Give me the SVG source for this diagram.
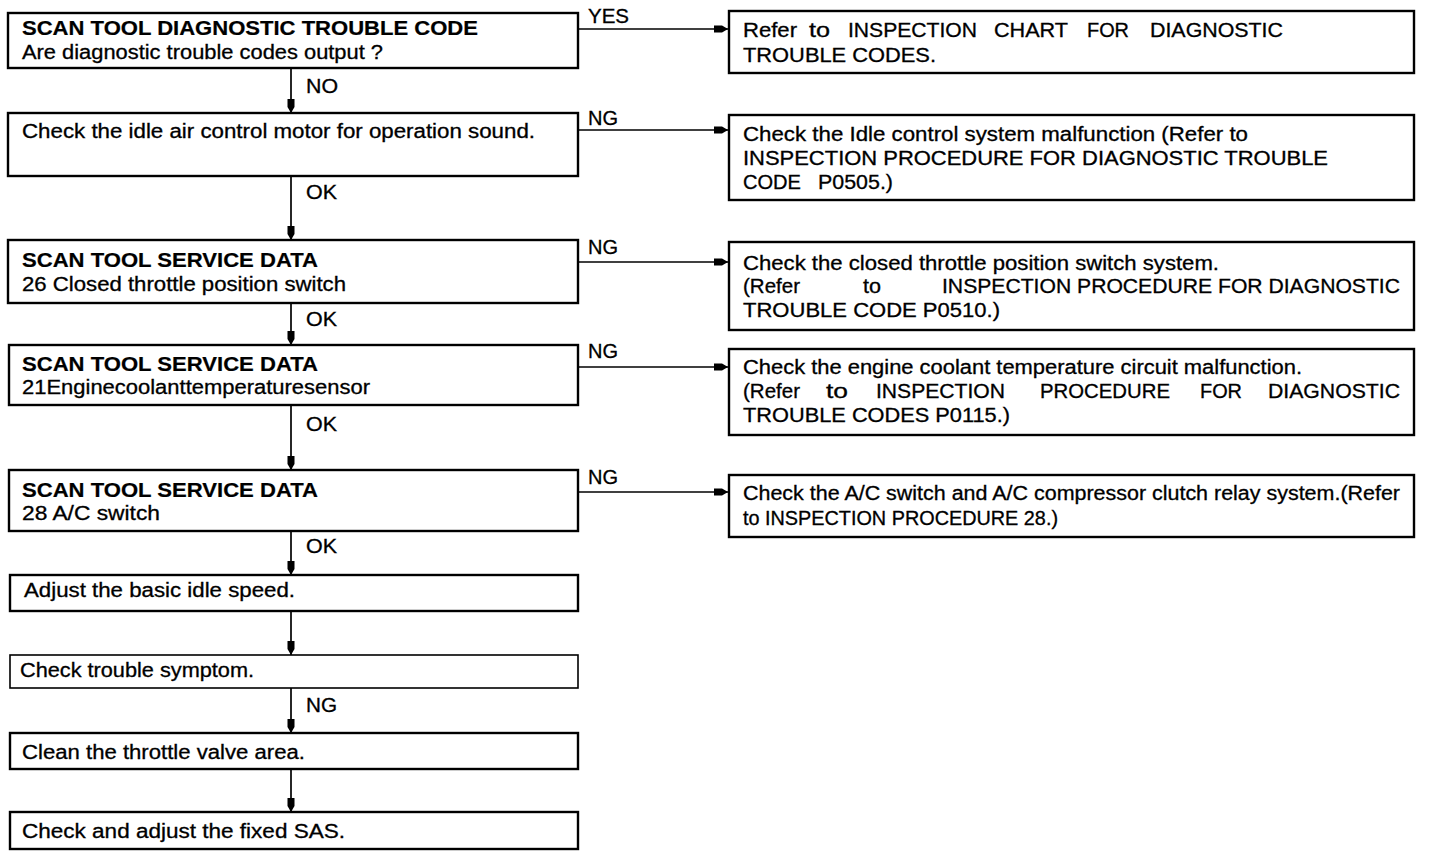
<svg xmlns="http://www.w3.org/2000/svg" width="1440" height="858" viewBox="0 0 1440 858">
<style>
.bg{fill:#ffffff}
.box{fill:#ffffff;stroke:#000000;stroke-width:2.4}
.thin{stroke-width:1.6}
.t{font-family:"Liberation Sans",Arial,sans-serif;font-size:19.5px;fill:#000000;stroke:#000000;stroke-width:0.3}
.b{font-weight:bold;stroke-width:0.2}
.lbl{font-family:"Liberation Sans",Arial,sans-serif;font-size:19.5px;fill:#000000;stroke:#000000;stroke-width:0.3}
.c{stroke:#000000;stroke-width:1.7;fill:none}
</style>
<defs>
<marker id="ah" viewBox="0 0 14 9" refX="14" refY="4.5" markerWidth="14" markerHeight="9" markerUnits="userSpaceOnUse" orient="auto">
<path d="M0,1 L8,1 L14,4.5 L8,8 L0,8 Z" fill="#000000"/>
</marker>
</defs>
<rect class="bg" x="0" y="0" width="1440" height="858"/>

<g id="connectors">
<line class="c" x1="578" y1="29" x2="728" y2="29" marker-end="url(#ah)"/>
<line class="c" x1="578" y1="130" x2="728" y2="130" marker-end="url(#ah)"/>
<line class="c" x1="578" y1="262" x2="728" y2="262" marker-end="url(#ah)"/>
<line class="c" x1="578" y1="367" x2="728" y2="367" marker-end="url(#ah)"/>
<line class="c" x1="578" y1="492" x2="728" y2="492" marker-end="url(#ah)"/>
<line class="c" x1="291" y1="68" x2="291" y2="113" marker-end="url(#ah)"/>
<line class="c" x1="291" y1="176" x2="291" y2="240" marker-end="url(#ah)"/>
<line class="c" x1="291" y1="303" x2="291" y2="345" marker-end="url(#ah)"/>
<line class="c" x1="291" y1="405" x2="291" y2="470" marker-end="url(#ah)"/>
<line class="c" x1="291" y1="531" x2="291" y2="575" marker-end="url(#ah)"/>
<line class="c" x1="291" y1="611" x2="291" y2="655" marker-end="url(#ah)"/>
<line class="c" x1="291" y1="688" x2="291" y2="733" marker-end="url(#ah)"/>
<line class="c" x1="291" y1="769" x2="291" y2="812" marker-end="url(#ah)"/>
<text class="lbl" x="588" y="23" textLength="41" lengthAdjust="spacingAndGlyphs">YES</text>
<text class="lbl" x="588" y="125" textLength="30" lengthAdjust="spacingAndGlyphs">NG</text>
<text class="lbl" x="588" y="254" textLength="30" lengthAdjust="spacingAndGlyphs">NG</text>
<text class="lbl" x="588" y="358" textLength="30" lengthAdjust="spacingAndGlyphs">NG</text>
<text class="lbl" x="588" y="484" textLength="30" lengthAdjust="spacingAndGlyphs">NG</text>
<text class="lbl" x="306" y="93" textLength="32" lengthAdjust="spacingAndGlyphs">NO</text>
<text class="lbl" x="306" y="199" textLength="31" lengthAdjust="spacingAndGlyphs">OK</text>
<text class="lbl" x="306" y="326" textLength="31" lengthAdjust="spacingAndGlyphs">OK</text>
<text class="lbl" x="306" y="431" textLength="31" lengthAdjust="spacingAndGlyphs">OK</text>
<text class="lbl" x="306" y="553" textLength="31" lengthAdjust="spacingAndGlyphs">OK</text>
<text class="lbl" x="306" y="712" textLength="31" lengthAdjust="spacingAndGlyphs">NG</text>
</g>

<g id="n1">
<rect class="box" x="8" y="13" width="570" height="55"/>
<text class="t b" x="22" y="35" textLength="456" lengthAdjust="spacingAndGlyphs">SCAN TOOL DIAGNOSTIC TROUBLE CODE</text>
<text class="t" x="22" y="59" textLength="361" lengthAdjust="spacingAndGlyphs">Are diagnostic trouble codes output ?</text>
</g>
<g id="n2">
<rect class="box" x="8" y="113" width="570" height="63"/>
<text class="t" x="22" y="138" textLength="513" lengthAdjust="spacingAndGlyphs">Check the idle air control motor for operation sound.</text>
</g>
<g id="n3">
<rect class="box" x="8" y="240" width="570" height="63"/>
<text class="t b" x="22" y="267" textLength="296" lengthAdjust="spacingAndGlyphs">SCAN TOOL SERVICE DATA</text>
<text class="t" x="22" y="291" textLength="324" lengthAdjust="spacingAndGlyphs">26 Closed throttle position switch</text>
</g>
<g id="n4">
<rect class="box" x="9" y="345" width="569" height="60"/>
<text class="t b" x="22" y="371" textLength="296" lengthAdjust="spacingAndGlyphs">SCAN TOOL SERVICE DATA</text>
<text class="t" x="22" y="394" textLength="348" lengthAdjust="spacingAndGlyphs">21Enginecoolanttemperaturesensor</text>
</g>
<g id="n5">
<rect class="box" x="9" y="470" width="569" height="61"/>
<text class="t b" x="22" y="497" textLength="296" lengthAdjust="spacingAndGlyphs">SCAN TOOL SERVICE DATA</text>
<text class="t" x="22" y="520" textLength="138" lengthAdjust="spacingAndGlyphs">28 A/C switch</text>
</g>
<g id="n6">
<rect class="box" x="10" y="575" width="568" height="36"/>
<text class="t" x="24" y="597" textLength="271" lengthAdjust="spacingAndGlyphs">Adjust the basic idle speed.</text>
</g>
<g id="n7">
<rect class="box thin" x="10" y="655" width="568" height="33"/>
<text class="t" x="20" y="677" textLength="234" lengthAdjust="spacingAndGlyphs">Check trouble symptom.</text>
</g>
<g id="n8">
<rect class="box" x="10" y="733" width="568" height="36"/>
<text class="t" x="22" y="759" textLength="283" lengthAdjust="spacingAndGlyphs">Clean the throttle valve area.</text>
</g>
<g id="n9">
<rect class="box" x="10" y="812" width="568" height="37"/>
<text class="t" x="22" y="838" textLength="323" lengthAdjust="spacingAndGlyphs">Check and adjust the fixed SAS.</text>
</g>

<g id="r1">
<rect class="box" x="729" y="11" width="685" height="62"/>
<text class="t" y="37"><tspan x="743" textLength="54" lengthAdjust="spacingAndGlyphs">Refer</tspan><tspan x="809" textLength="21" lengthAdjust="spacingAndGlyphs">to</tspan><tspan x="848" textLength="129" lengthAdjust="spacingAndGlyphs">INSPECTION</tspan><tspan x="994" textLength="74" lengthAdjust="spacingAndGlyphs">CHART</tspan><tspan x="1087" textLength="42" lengthAdjust="spacingAndGlyphs">FOR</tspan><tspan x="1150" textLength="133" lengthAdjust="spacingAndGlyphs">DIAGNOSTIC</tspan></text>
<text class="t" x="743" y="62" textLength="193" lengthAdjust="spacingAndGlyphs">TROUBLE CODES.</text>
</g>
<g id="r2">
<rect class="box" x="729" y="115" width="685" height="85"/>
<text class="t" x="743" y="141" textLength="505" lengthAdjust="spacingAndGlyphs">Check the Idle control system malfunction (Refer to</text>
<text class="t" x="743" y="165" textLength="585" lengthAdjust="spacingAndGlyphs">INSPECTION PROCEDURE FOR DIAGNOSTIC TROUBLE</text>
<text class="t" y="189"><tspan x="743" textLength="58" lengthAdjust="spacingAndGlyphs">CODE</tspan><tspan x="818" textLength="75" lengthAdjust="spacingAndGlyphs">P0505.)</tspan></text>
</g>
<g id="r3">
<rect class="box" x="729" y="242" width="685" height="88"/>
<text class="t" x="743" y="270" textLength="476" lengthAdjust="spacingAndGlyphs">Check the closed throttle position switch system.</text>
<text class="t" y="293"><tspan x="743" textLength="57" lengthAdjust="spacingAndGlyphs">(Refer</tspan><tspan x="863" textLength="18" lengthAdjust="spacingAndGlyphs">to</tspan><tspan x="942" textLength="458" lengthAdjust="spacingAndGlyphs">INSPECTION PROCEDURE FOR DIAGNOSTIC</tspan></text>
<text class="t" x="743" y="317" textLength="257" lengthAdjust="spacingAndGlyphs">TROUBLE CODE P0510.)</text>
</g>
<g id="r4">
<rect class="box" x="729" y="349" width="685" height="86"/>
<text class="t" x="743" y="374" textLength="559" lengthAdjust="spacingAndGlyphs">Check the engine coolant temperature circuit malfunction.</text>
<text class="t" y="398"><tspan x="743" textLength="57" lengthAdjust="spacingAndGlyphs">(Refer</tspan><tspan x="826" textLength="22" lengthAdjust="spacingAndGlyphs">to</tspan><tspan x="876" textLength="129" lengthAdjust="spacingAndGlyphs">INSPECTION</tspan><tspan x="1040" textLength="130" lengthAdjust="spacingAndGlyphs">PROCEDURE</tspan><tspan x="1200" textLength="42" lengthAdjust="spacingAndGlyphs">FOR</tspan><tspan x="1268" textLength="132" lengthAdjust="spacingAndGlyphs">DIAGNOSTIC</tspan></text>
<text class="t" x="743" y="422" textLength="267" lengthAdjust="spacingAndGlyphs">TROUBLE CODES P0115.)</text>
</g>
<g id="r5">
<rect class="box" x="729" y="475" width="685" height="62"/>
<text class="t" x="743" y="500" textLength="657" lengthAdjust="spacingAndGlyphs">Check the A/C switch and A/C compressor clutch relay system.(Refer</text>
<text class="t" x="743" y="525" textLength="315" lengthAdjust="spacingAndGlyphs">to INSPECTION PROCEDURE 28.)</text>
</g>
</svg>
